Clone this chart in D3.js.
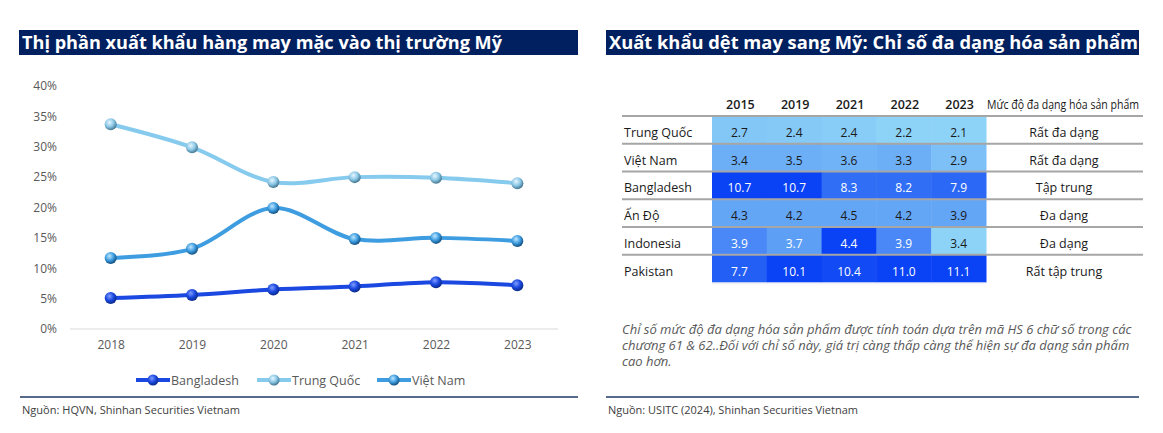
<!DOCTYPE html>
<html><head><meta charset="utf-8">
<script src="https://cdn.jsdelivr.net/npm/d3@7"></script>
<style>
html,body{margin:0;padding:0;background:#fff;}
svg{display:block;font-family:"Open Sans",sans-serif;}
</style></head>
<body>
<svg id="c" width="1163" height="433"></svg>
<script>
// ---------- Left chart data ----------
const years = ["2018","2019","2020","2021","2022","2023"];
const bangladesh = [5.1, 5.6, 6.5, 7.0, 7.7, 7.2];
const trungQuoc = [33.7, 29.9, 24.2, 25.0, 24.9, 24.0];
const vietNam = [11.7, 13.2, 19.9, 14.8, 15.0, 14.5];
const yTicks = [0, 5, 10, 15, 20, 25, 30, 35, 40];
const seriesNames = ["Bangladesh", "Trung Quốc", "Việt Nam"];

// ---------- Right table data ----------
const tableYears = ["2015", "2019", "2021", "2022", "2023"];
const countries = ["Trung Quốc", "Việt Nam", "Bangladesh", "Ấn Độ", "Indonesia", "Pakistan"];
const idxTrungQuoc = [2.7, 2.4, 2.4, 2.2, 2.1];
const idxVietNam = [3.4, 3.5, 3.6, 3.3, 2.9];
const idxBangladesh = [10.7, 10.7, 8.3, 8.2, 7.9];
const idxAnDo = [4.3, 4.2, 4.5, 4.2, 3.9];
const idxIndonesia = [3.9, 3.7, 4.4, 3.9, 3.4];
const idxPakistan = [7.7, 10.1, 10.4, 11.0, 11.1];
// shading intensity (0 = lightest, 1 = darkest)
const shadeTrungQuoc = [0.08, 0.06, 0.04, 0.0, 0.0];
const shadeVietNam = [0.25, 0.25, 0.22, 0.25, 0.13];
const shadeBangladesh = [1.0, 1.0, 0.70, 0.70, 0.74];
const shadeAnDo = [0.31, 0.31, 0.31, 0.31, 0.31];
const shadeIndonesia = [0.52, 0.36, 1.0, 0.52, 0.0];
const shadePakistan = [0.80, 1.0, 0.94, 1.0, 1.0];
const levelLabels = ["Rất đa dạng", "Rất đa dạng", "Tập trung", "Đa dạng", "Đa dạng", "Rất tập trung"];
const levelHeader = "Mức độ đa dạng hóa sản phẩm";

const leftTitle = "Thị phần xuất khẩu hàng may mặc vào thị trường Mỹ";
const rightTitle = "Xuất khẩu dệt may sang Mỹ: Chỉ số đa dạng hóa sản phẩm";
const leftSource = "Nguồn: HQVN, Shinhan Securities Vietnam";
const rightSource = "Nguồn: USITC (2024), Shinhan Securities Vietnam";
const noteLines = [
  "Chỉ số mức độ đa dạng hóa sản phẩm được tính toán dựa trên mã HS 6 chữ số trong các",
  "chương 61 & 62..Đối với chỉ số này, giá trị càng thấp càng thể hiện sự đa dạng sản phẩm",
  "cao hơn."
];

const svg = d3.select("#c");
const navy = "#002060";

// ---------- titles ----------
function titleBar(x0, x1, text, tw) {
  svg.append("rect").attr("x", x0).attr("y", 30).attr("width", x1 - x0).attr("height", 25).attr("fill", navy);
  svg.append("text").attr("x", x0 + 3).attr("y", 49).attr("fill", "#fff")
    .attr("font-size", 17.5).attr("font-weight", 700)
    .attr("textLength", tw).attr("lengthAdjust", "spacingAndGlyphs").text(text);
}
titleBar(19, 578, leftTitle, 480);
titleBar(606, 1139, rightTitle, 529);

// bottom rules + sources
function footer(x0, x1, text, tw) {
  svg.append("line").attr("x1", x0).attr("x2", x1).attr("y1", 397).attr("y2", 397)
    .attr("stroke", "#1f3864").attr("stroke-width", 1.5);
  svg.append("text").attr("x", x0 + 2).attr("y", 414).attr("fill", "#404040")
    .attr("font-size", 11.5).attr("textLength", tw).attr("lengthAdjust", "spacingAndGlyphs").text(text);
}
footer(20, 578, leftSource, 218);
footer(606, 1139, rightSource, 250);

// ---------- left line chart ----------
const defs = svg.append("defs");
const seriesColors = ["#1a48e0", "#86caee", "#3d9de0"];
const sphereStops = [
  ["#7f9cff", "#1a48e0", "#0b2a8a"],
  ["#e6f6ff", "#8cc8e6", "#43768f"],
  ["#bfe6ff", "#3d9de0", "#134f80"]
];
sphereStops.forEach((s, i) => {
  const g = defs.append("radialGradient").attr("id", "sph" + i)
    .attr("cx", "40%").attr("cy", "35%").attr("r", "65%");
  g.append("stop").attr("offset", "0%").attr("stop-color", s[0]);
  g.append("stop").attr("offset", "55%").attr("stop-color", s[1]);
  g.append("stop").attr("offset", "100%").attr("stop-color", s[2]);
});

const x = d3.scalePoint().domain(years).range([70, 558]).padding(0.5);
const y = d3.scaleLinear().domain([0, 40]).range([329, 86]);

// gridline at 0
svg.append("line").attr("x1", 70).attr("x2", 558).attr("y1", y(0)).attr("y2", y(0))
  .attr("stroke", "#d9d9d9").attr("stroke-width", 1);

const yAxis = d3.axisLeft(y).tickValues(yTicks).tickSize(0).tickPadding(0).tickFormat(d => d + "%");
const ya = svg.append("g").attr("transform", "translate(57,0)").call(yAxis);
ya.select(".domain").remove();
ya.selectAll("text").attr("fill", "#595959").attr("font-size", 12).attr("font-family", "Open Sans");

const xAxis = d3.axisBottom(x).tickSize(0).tickPadding(0);
const xa = svg.append("g").attr("transform", "translate(0,340)").call(xAxis);
xa.select(".domain").remove();
xa.selectAll("text").attr("fill", "#595959").attr("font-size", 12).attr("font-family", "Open Sans");

const line = d3.line().x((d, i) => x(years[i])).y(d => y(d)).curve(d3.curveCatmullRom.alpha(0.5));
const allSeries = [bangladesh, trungQuoc, vietNam];
// draw order: Trung Quoc, Viet Nam, Bangladesh
[1, 2, 0].forEach(si => {
  const data = allSeries[si];
  svg.append("path").attr("d", line(data)).attr("fill", "none")
    .attr("stroke", seriesColors[si]).attr("stroke-width", 4).attr("stroke-linecap", "round");
  svg.selectAll(null).data(data).enter().append("circle")
    .attr("cx", (d, i) => x(years[i])).attr("cy", d => y(d)).attr("r", 6)
    .attr("fill", "url(#sph" + si + ")");
});

// legend
const legendX = [136, 257, 377];
seriesNames.forEach((n, i) => {
  const lx = legendX[i];
  svg.append("line").attr("x1", lx).attr("x2", lx + 34).attr("y1", 380).attr("y2", 380)
    .attr("stroke", seriesColors[i]).attr("stroke-width", 4);
  svg.append("circle").attr("cx", lx + 17).attr("cy", 380).attr("r", 5.5).attr("fill", "url(#sph" + i + ")");
  svg.append("text").attr("x", lx + 35).attr("y", 384.5).attr("font-size", 12.5)
    .attr("fill", "#595959").text(n);
});

// ---------- right table ----------
const rows = [idxTrungQuoc, idxVietNam, idxBangladesh, idxAnDo, idxIndonesia, idxPakistan];
const shades = [shadeTrungQuoc, shadeVietNam, shadeBangladesh, shadeAnDo, shadeIndonesia, shadePakistan];
const colX = d3.scaleBand().domain(tableYears).range([712, 986]);
const rowY = d3.scaleBand().domain(countries).range([116, 282.5]);
const shadeColor = d3.scaleLinear().domain([0, 1]).range(["#8dd3f7", "#0a42f5"]).interpolate(d3.interpolateRgb);

// header
svg.selectAll(null).data(tableYears).enter().append("text")
  .attr("x", d => colX(d) + colX.bandwidth() / 2 + 1).attr("y", 109)
  .attr("text-anchor", "middle").attr("font-size", 12.5).attr("font-weight", 600).attr("fill", "#1a1a1a")
  .text(d => d);
svg.append("text").attr("x", 1063).attr("y", 109).attr("text-anchor", "middle")
  .attr("font-size", 12).attr("fill", "#1a1a1a").attr("textLength", 152).attr("lengthAdjust", "spacingAndGlyphs")
  .text(levelHeader);

countries.forEach((c, ri) => {
  const y0 = rowY(c), h = rowY.bandwidth();
  rows[ri].forEach((v, ci) => {
    const yr = tableYears[ci];
    const s = shades[ri][ci];
    svg.append("rect").attr("x", colX(yr)).attr("y", y0).attr("width", colX.bandwidth() + 0.5).attr("height", h)
      .attr("fill", shadeColor(s));
    svg.append("text").attr("x", colX(yr) + colX.bandwidth() / 2).attr("y", y0 + h / 2 + 7)
      .attr("text-anchor", "middle").attr("font-size", 12)
      .attr("fill", s > 0.33 ? "#ffffff" : "#1a1a1a").text(v.toFixed(1));
  });
  svg.append("text").attr("x", 624).attr("y", y0 + h / 2 + 7).attr("font-size", 12.5)
    .attr("fill", "#1a1a1a").text(c);
  svg.append("text").attr("x", 1064).attr("y", y0 + h / 2 + 7).attr("text-anchor", "middle")
    .attr("font-size", 12.5).attr("fill", "#1a1a1a").text(levelLabels[ri]);
});
// row separators
const sepY = countries.map(c => rowY(c));
svg.selectAll(null).data(sepY).enter().append("line")
  .attr("x1", 622).attr("x2", 1143).attr("y1", d => d).attr("y2", d => d)
  .attr("stroke", "#a6a6a6").attr("stroke-width", 2);
svg.append("line").attr("x1", 712).attr("x2", 986).attr("y1", 283).attr("y2", 283)
  .attr("stroke", "#e0e8f0").attr("stroke-width", 1);

// note
noteLines.forEach((t, i) => {
  svg.append("text").attr("x", 622).attr("y", 334 + i * 16).attr("font-size", 13)
    .attr("font-style", "italic").attr("fill", "#595959").text(t);
});
</script>
</body></html>
